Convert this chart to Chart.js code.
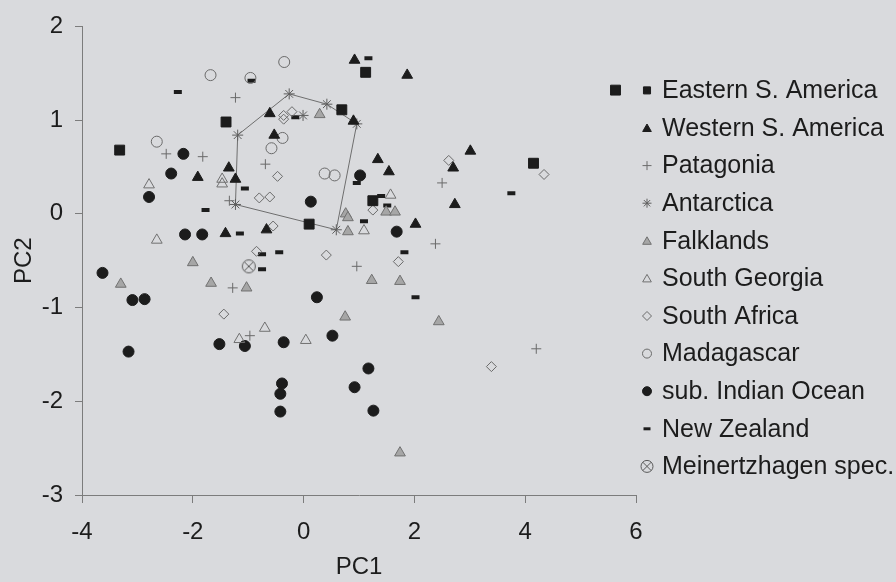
<!DOCTYPE html>
<html>
<head>
<meta charset="utf-8">
<script src="https://cdn.jsdelivr.net/npm/chart.js@4/dist/chart.umd.min.js"></script>
<style>
  html, body { margin: 0; padding: 0; background: #d9dadd; }
  #wrap { width: 896px; height: 582px; }
  canvas { display: block; }
</style>
</head>
<body>
<div id="wrap"><canvas id="pca" width="896" height="582"></canvas></div>
<script>
// PCA scores (PC1, PC2) per region
const easternX = [-1.40, -3.32, 1.12, 0.69, 4.15, 1.25, 0.10, 5.63];
const easternY = [0.98, 0.68, 1.51, 1.11, 0.54, 0.14, -0.11, 1.32];

const westernX = [0.92, 1.87, -0.61, 0.90, -0.53, 1.34, 1.54, 3.01, 2.70, 2.73, -1.35, -1.91, -1.23, -1.41, -0.67, 2.02];
const westernY = [1.64, 1.48, 1.07, 0.99, 0.84, 0.58, 0.45, 0.67, 0.49, 0.10, 0.49, 0.39, 0.37, -0.21, -0.17, -0.11];

const patagoniaX = [-1.23, -2.48, -1.82, -0.69, 2.50, -1.34, -1.28, -0.97, 0.96, 2.38, 4.20];
const patagoniaY = [1.24, 0.64, 0.61, 0.53, 0.33, 0.14, -0.79, -1.30, -0.56, -0.32, -1.44];

const antarcticaX = [-1.19, -0.26, 0.42, 0.96, 0.59, -1.23, -0.01];
const antarcticaY = [0.84, 1.28, 1.17, 0.96, -0.17, 0.10, 1.05];

const falklandsX = [0.29, 0.76, 0.80, 0.80, 1.49, 1.65, -2.00, -3.30, -1.67, -1.03, 1.23, 1.74, 0.75, 2.44, 1.74];
const falklandsY = [1.06, 0.00, -0.04, -0.19, 0.02, 0.02, -0.52, -0.75, -0.74, -0.79, -0.71, -0.72, -1.10, -1.15, -2.55];

const southGeorgiaX = [-1.47, -1.47, -2.79, -2.65, 1.57, 1.09, -1.16, -0.70, 0.04];
const southGeorgiaY = [0.37, 0.32, 0.31, -0.28, 0.20, -0.18, -1.34, -1.22, -1.35];

const southAfricaX = [-0.36, -0.36, -0.21, -0.47, -0.80, -0.61, 1.25, -0.55, -0.85, 0.41, 1.71, -1.44, 2.62, 4.34, 3.39];
const southAfricaY = [1.05, 1.01, 1.09, 0.40, 0.17, 0.18, 0.04, -0.13, -0.40, -0.44, -0.51, -1.07, 0.57, 0.42, -1.63];

const madagascarX = [-1.68, -0.96, -0.35, -2.65, -0.38, -0.58, 0.38, 0.56];
const madagascarY = [1.48, 1.45, 1.62, 0.77, 0.81, 0.70, 0.43, 0.41];

const indianX = [-2.17, -2.39, -2.79, 0.13, 1.68, -2.14, -1.83, -3.63, -3.09, -2.87, -3.16, -1.52, -1.06, -0.36, 0.24, 0.52, 1.17, -0.39, -0.42, -0.42, 0.92, 1.26, 1.02];
const indianY = [0.64, 0.43, 0.18, 0.13, -0.19, -0.22, -0.22, -0.63, -0.92, -0.91, -1.47, -1.39, -1.41, -1.37, -0.89, -1.30, -1.65, -1.81, -1.92, -2.11, -1.85, -2.10, 0.41];

const zealandX = [-2.27, -0.94, 1.17, -0.15, -1.06, 3.75, -1.77, -1.15, 1.40, 1.51, 1.09, -0.75, -0.44, -0.75, 1.82, 2.02, 0.96];
const zealandY = [1.30, 1.42, 1.66, 1.03, 0.27, 0.22, 0.04, -0.21, 0.19, 0.09, -0.08, -0.43, -0.41, -0.59, -0.41, -0.89, 0.33];

const meinertzhagenX = [-0.99];
const meinertzhagenY = [-0.56];

const seriesNames = [
  'Eastern S. America', 'Western S. America', 'Patagonia', 'Antarctica',
  'Falklands', 'South Georgia', 'South Africa', 'Madagascar',
  'sub. Indian Ocean', 'New Zealand', 'Meinertzhagen spec.'
];

const xTicks = [-4, -2, 0, 2, 4, 6];
const yTicks = [-3, -2, -1, 0, 1, 2];

const FONT = '"Liberation Sans", Arial, sans-serif';
const INK = '#1c1c1c';
const OUTLINE = '#6a6a6a';

function pts(xs, ys) { return xs.map((x, i) => ({ x: x, y: ys[i] })); }

// convex hull (monotone chain) around the Antarctic scores
function hull(points) {
  const p = points.slice().sort((a, b) => a.x - b.x || a.y - b.y);
  const cross = (o, a, b) => (a.x - o.x) * (b.y - o.y) - (a.y - o.y) * (b.x - o.x);
  const lower = [], upper = [];
  for (const q of p) {
    while (lower.length >= 2 && cross(lower[lower.length - 2], lower[lower.length - 1], q) <= 0) lower.pop();
    lower.push(q);
  }
  for (let i = p.length - 1; i >= 0; i--) {
    const q = p[i];
    while (upper.length >= 2 && cross(upper[upper.length - 2], upper[upper.length - 1], q) <= 0) upper.pop();
    upper.push(q);
  }
  upper.pop(); lower.pop();
  const h = lower.concat(upper);
  h.push(h[0]);
  return h;
}

// circle with a diagonal cross
function crossedCircle(size, r) {
  const c = document.createElement('canvas');
  c.width = size; c.height = size;
  const g = c.getContext('2d');
  const m = size / 2;
  g.strokeStyle = '#5a5a5a';
  g.lineWidth = 1;
  g.beginPath(); g.arc(m, m, r, 0, Math.PI * 2); g.stroke();
  const d = r * Math.SQRT1_2;
  g.beginPath();
  g.moveTo(m - d, m - d); g.lineTo(m + d, m + d);
  g.moveTo(m + d, m - d); g.lineTo(m - d, m + d);
  g.stroke();
  return c;
}
const meinertzImg = crossedCircle(16, 6.5);

const styles = [
  { pointStyle: 'rect', radius: 7, bg: INK, border: INK, bw: 1, lr: 5 },
  { pointStyle: 'triangle', radius: 6.2, bg: INK, border: INK, bw: 1, lr: 5 },
  { pointStyle: 'cross', radius: 5, bg: 'rgba(0,0,0,0)', border: OUTLINE, bw: 1, lr: 4.5 },
  { pointStyle: 'star', radius: 5.5, bg: 'rgba(0,0,0,0)', border: '#5e5e5e', bw: 1, lr: 4.5 },
  { pointStyle: 'triangle', radius: 6.2, bg: '#a6a6a6', border: '#707070', bw: 1, lr: 5 },
  { pointStyle: 'triangle', radius: 6.2, bg: 'rgba(0,0,0,0)', border: '#707070', bw: 1, lr: 5 },
  { pointStyle: 'rectRot', radius: 5, bg: 'rgba(0,0,0,0)', border: OUTLINE, bw: 1, lr: 4.5 },
  { pointStyle: 'circle', radius: 5.5, bg: 'rgba(0,0,0,0)', border: OUTLINE, bw: 1, lr: 4.5 },
  { pointStyle: 'circle', radius: 5.5, bg: INK, border: INK, bw: 1, lr: 4.5 },
  { pointStyle: 'line', radius: 4, bg: INK, border: INK, bw: 4, lr: 3.5 },
  { pointStyle: meinertzImg, radius: 7, bg: 'rgba(0,0,0,0)', border: '#5a5a5a', bw: 1, lr: 6 }
];

const seriesData = [
  pts(easternX, easternY), pts(westernX, westernY), pts(patagoniaX, patagoniaY),
  pts(antarcticaX, antarcticaY), pts(falklandsX, falklandsY), pts(southGeorgiaX, southGeorgiaY),
  pts(southAfricaX, southAfricaY), pts(madagascarX, madagascarY), pts(indianX, indianY),
  pts(zealandX, zealandY), pts(meinertzhagenX, meinertzhagenY)
];

const datasets = seriesNames.map((name, i) => ({
  label: name,
  data: seriesData[i],
  pointStyle: styles[i].pointStyle,
  pointRadius: styles[i].radius,
  pointBackgroundColor: styles[i].bg,
  pointBorderColor: styles[i].border,
  pointBorderWidth: styles[i].bw,
  showLine: false
}));

datasets.push({
  label: 'Antarctica outline',
  type: 'line',
  data: hull(seriesData[3]),
  borderColor: '#6e6e6e',
  borderWidth: 1,
  pointRadius: 0,
  fill: false,
  tension: 0,
  order: 20
});

// vertical key to the right of the plot
const keyPlugin = {
  id: 'sideKey',
  afterDraw(chart) {
    const ctx = chart.ctx;
    const area = chart.chartArea;
    const mx = area.right + 11;
    const tx = area.right + 26;
    ctx.save();
    ctx.font = '25px ' + FONT;
    ctx.textBaseline = 'middle';
    ctx.textAlign = 'left';
    seriesNames.forEach((name, i) => {
      const y = area.top + 64 + i * 37.6;
      const s = styles[i];
      ctx.fillStyle = s.bg;
      ctx.strokeStyle = s.border;
      ctx.lineWidth = s.bw === 4 ? 3 : s.bw;
      if (typeof s.pointStyle === 'string') {
        Chart.helpers.drawPoint(ctx, { pointStyle: s.pointStyle, radius: s.lr, rotation: 0, borderWidth: ctx.lineWidth }, mx, y + (s.pointStyle === 'triangle' ? 1 : 0));
      } else {
        Chart.helpers.drawPoint(ctx, { pointStyle: 'circle', radius: s.lr, rotation: 0, borderWidth: 1 }, mx, y);
        Chart.helpers.drawPoint(ctx, { pointStyle: 'crossRot', radius: s.lr, rotation: 0, borderWidth: 1 }, mx, y);
      }
      ctx.fillStyle = INK;
      ctx.fillText(name, tx, y + 1);
    });
    ctx.restore();
  }
};

new Chart(document.getElementById('pca'), {
  type: 'scatter',
  data: { datasets: datasets },
  plugins: [keyPlugin],
  options: {
    responsive: false,
    animation: false,
    devicePixelRatio: 1,
    events: [],
    layout: { padding: { top: 21, right: 260, bottom: 0, left: 0 } },
    plugins: { legend: { display: false }, tooltip: { enabled: false } },
    scales: {
      x: {
        type: 'linear',
        min: -4, max: 6,
        afterBuildTicks: (scale) => { scale.ticks = xTicks.map(v => ({ value: v })); },
        afterFit: (scale) => { scale.height = 87; },
        ticks: { color: INK, font: { family: FONT, size: 24 }, padding: 15 },
        grid: { drawOnChartArea: false, drawTicks: true, tickLength: 8, color: '#7c7c7c', lineWidth: 1 },
        border: { display: true, color: '#7c7c7c', width: 1 },
        title: { display: true, text: 'PC1', color: INK, font: { family: FONT, size: 24 }, padding: { top: 0, bottom: 0 } }
      },
      y: {
        type: 'linear',
        min: -3, max: 2,
        afterBuildTicks: (scale) => { scale.ticks = yTicks.map(v => ({ value: v })); },
        afterFit: (scale) => { scale.width = 82; },
        ticks: { color: INK, font: { family: FONT, size: 24 }, padding: 12 },
        grid: { drawOnChartArea: false, drawTicks: true, tickLength: 7, color: '#7c7c7c', lineWidth: 1 },
        border: { display: true, color: '#7c7c7c', width: 1 },
        title: { display: true, text: 'PC2', color: INK, font: { family: FONT, size: 24 }, padding: { top: 10, bottom: 0 } }
      }
    }
  }
});
</script>
</body>
</html>
